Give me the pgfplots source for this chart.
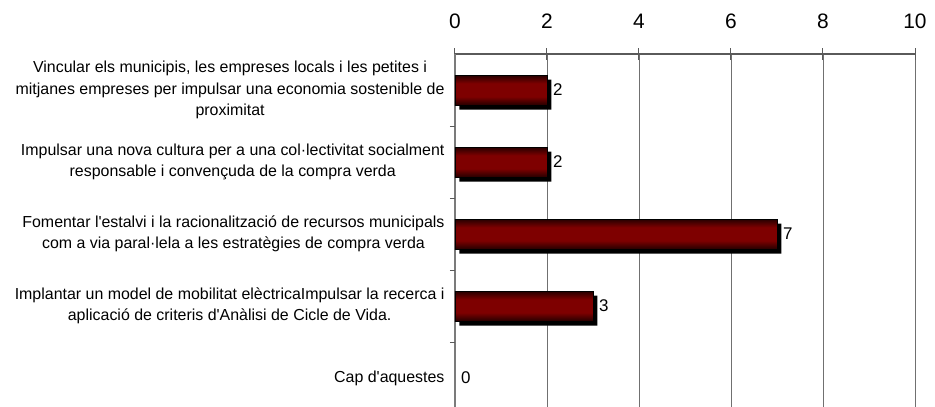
\documentclass[border=0pt]{standalone}
\usepackage{pgfplots}
\pgfplotsset{compat=1.18}
\usepackage{fontspec}
\setmainfont{Liberation Sans}[Ligatures=TeXOff]
\definecolor{axisgray}{HTML}{5A5A5A}
\definecolor{gridgray}{HTML}{707070}
\definecolor{bardark}{HTML}{260000}
\definecolor{barred}{HTML}{7E0000}
\pgfdeclareverticalshading{barshade}{100bp}{color(0bp)=(bardark); color(25bp)=(bardark); color(39bp)=(barred); color(61bp)=(barred); color(75bp)=(bardark); color(100bp)=(bardark)}
\pgfplotsset{barstyle/.style={xbar, bar width=30bp, bar shift=0pt, draw=black, line width=0.5bp, shade, shading=barshade}}
\begin{document}
\begin{tikzpicture}
\begin{axis}[
  at={(0,0)}, anchor=south west,
  width=460bp, height=360bp, scale only axis,
  xmin=0, xmax=10, ymin=-0.5, ymax=4.5,
  axis x line*=top, axis y line*=left,
  x axis line style={color=axisgray, line width=1.3bp},
  y axis line style={color=axisgray!80, line width=1.8bp},
  xtick={0,2,...,10},
  xmajorgrids, grid style={gridgray, line width=0.8bp},
  x tick style={color=axisgray, line width=1bp},
  major tick length=12bp,
  tick align=center,
  xticklabel style={font=\fontsize{21}{24}\selectfont, color=black, yshift=15.5bp},
  /pgf/number format/assume math mode=true,
  ytick={0,...,4},
  y tick style={draw=none},
  yticklabels={Cap d'aquestes,
    {Implantar un model de mobilitat elèctricaImpulsar la recerca i\\aplicació de criteris d'Anàlisi de Cicle de Vida.},
    {Fomentar l'estalvi i la racionalització de recursos municipals\\com a via paral·lela a les estratègies de compra verda},
    {Impulsar una nova cultura per a una col·lectivitat socialment\\responsable i convençuda de la compra verda},
    {Vincular els municipis, les empreses locals i les petites i\\mitjanes empreses per impulsar una economia sostenible de\\proximitat}},
  yticklabel style={align=center, anchor=east, font=\fontsize{16}{21.5}\selectfont, color=black, xshift=-1bp},
  extra y ticks={0.5,1.5,2.5,3.5},
  extra y tick labels={},
  extra y tick style={grid=none, major tick length=5bp, tick align=outside, y tick style={draw=axisgray, line width=1bp}},
]
% shadow
\addplot[xbar, bar width=30bp, bar shift=-4.5bp, fill=black, draw=none, xshift=4.5bp]
  coordinates {(2,4) (2,3) (7,2) (3,1)};
% bars (one plot each so that each is shaded on its own)
\addplot[barstyle] coordinates {(2,4)};
\addplot[barstyle] coordinates {(2,3)};
\addplot[barstyle] coordinates {(7,2)};
\addplot[barstyle] coordinates {(3,1)};
% labels
\addplot[xbar, bar width=30bp, bar shift=0pt, draw=none, fill=none,
  nodes near coords,
  nodes near coords style={font=\fontsize{17}{20}\selectfont, color=black, anchor=west, inner sep=0pt, xshift=6bp}]
  coordinates {(2,4) (2,3) (7,2) (3,1) (0,0)};
\end{axis}
\pgfresetboundingbox
\useasboundingbox (-455bp,7bp) rectangle (480bp,414bp);
\end{tikzpicture}
\end{document}
